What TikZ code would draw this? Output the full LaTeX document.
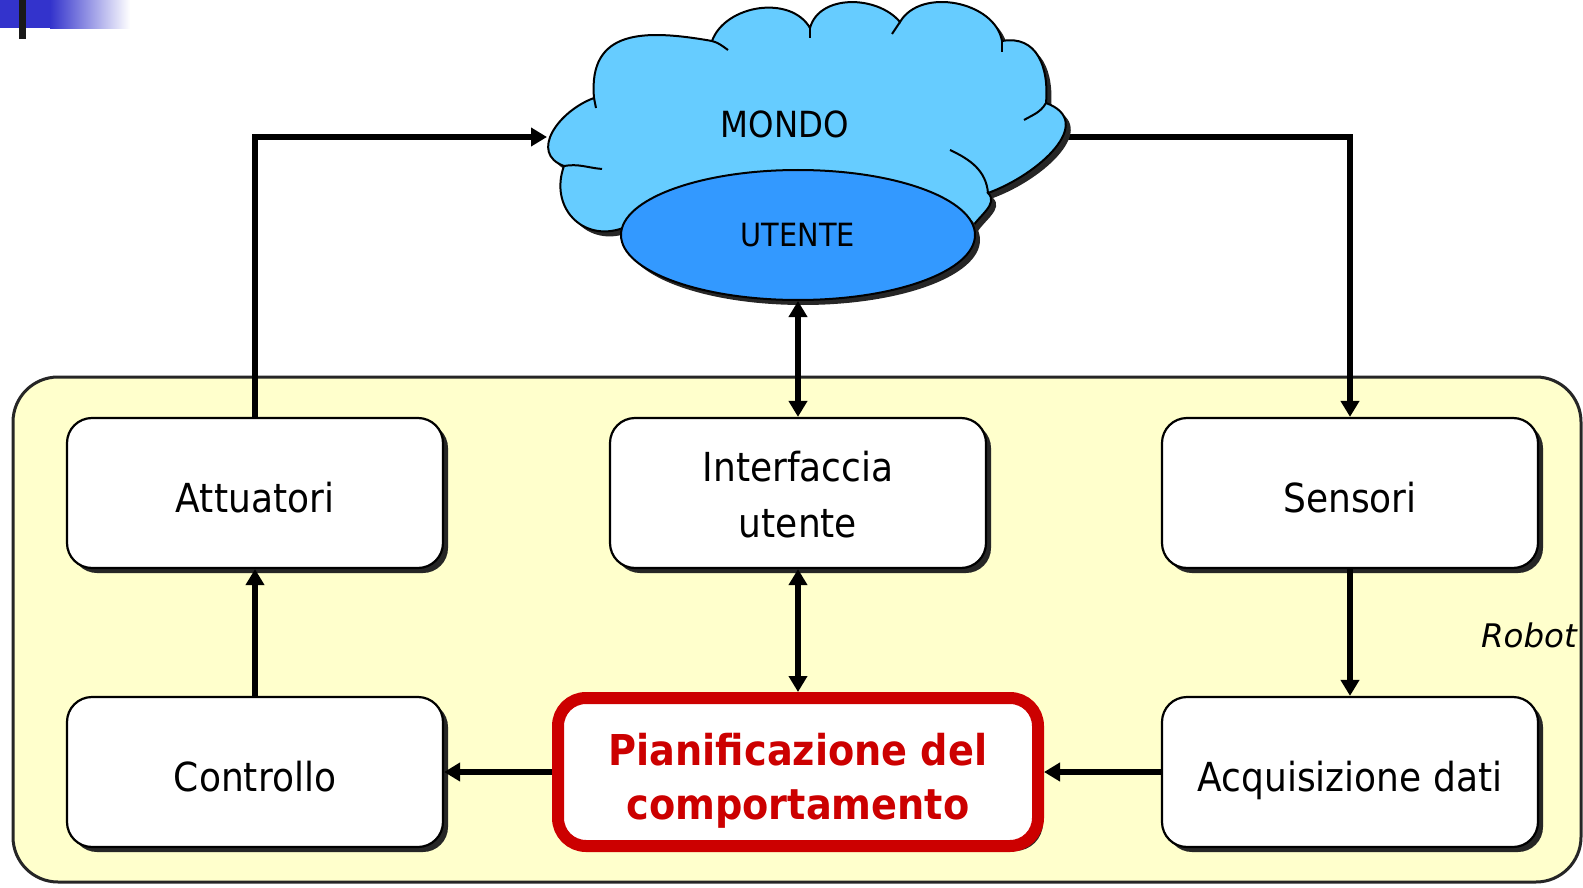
\documentclass[tikz,border=0pt]{standalone}
\usepackage{fontspec}
\setmainfont{DejaVu Sans}[FakeStretch=0.9]
\newfontfamily\robotfont{DejaVu Sans}
\usetikzlibrary{shapes.geometric,arrows.meta,shadows}
\definecolor{cloudblue}{HTML}{66CCFF}
\definecolor{userblue}{HTML}{3399FF}
\definecolor{robotbg}{HTML}{FFFFCC}
\definecolor{planred}{HTML}{CC0000}
\definecolor{barblue}{HTML}{3333CC}
\begin{document}
\begin{tikzpicture}[x=1pt,y=-1pt,
  shad/.style={drop shadow={shadow xshift=5pt,shadow yshift=-5pt,opacity=1,fill=black!85}},
  box/.style={draw=black, line width=2.2pt, fill=white, rounded corners=25pt,
    minimum width=376pt, minimum height=150pt, inner sep=0pt, align=center,
    font=\fontsize{40}{56}\selectfont, shad},
  single/.style={text height=38pt, text depth=0pt},
  arr/.style={line width=6pt, -{Triangle[length=16pt,width=18pt]}},
  darr/.style={line width=6pt, {Triangle[length=16pt,width=18pt]}-{Triangle[length=16pt,width=18pt]}},
  cloudline/.style={draw=black, line width=2pt},
]
\useasboundingbox (0,0) rectangle (1583,888);
% top-left decoration
\fill[barblue] (0,0) rectangle (51,28);
\shade[left color=barblue, right color=white] (50,0) rectangle (130,29);
\fill[black!90] (19,0) rectangle (26,39);

% robot container
\node[draw=black!85, line width=3pt, fill=robotbg, rounded corners=45pt,
  minimum width=1568pt, minimum height=505pt, inner sep=0pt] (robot) at (797,629.5) {};
\node[font=\fontsize{32.5}{32.5}\selectfont\robotfont\itshape, anchor=base east, inner sep=0pt] (robotlbl) at (1577,647) {Robot};

% boxes
\node[box, single] (att) at (255,493) {Attuatori};
\node[box] (intf) at (798,493) {\rule{0pt}{34pt}Interfaccia\\utente};
\node[box, single] (sens) at (1350,493) {Sensori};
\node[box, single] (ctrl) at (255,772) {Controllo};
\node[box, single] (acq) at (1350,772) {Acquisizione dati};
\node[draw=planred, line width=12pt, fill=white, rounded corners=28pt,
  minimum width=480pt, minimum height=148pt, inner sep=0pt, shad] (pian) at (798,772) {};
\node[text=planred, align=center, inner sep=0pt,
  font=\fontsize{42.5}{54}\selectfont\bfseries] (piantxt) at (798,781) {Pianificazione del\\comportamento};

% connector leaving the cloud (drawn under it)
\coordinate (cloudL) at (547,137);
\coordinate (cloudR) at (1040,137);
\draw[arr] (cloudR) -| (sens.north);

% cloud
\path[fill=cloudblue, cloudline, shad]
 (623,228) to[out=200,in=250,looseness=1.3] (564,166)
 to[out=160,in=200,looseness=1.3] (594,98)
 to[out=95,in=170,looseness=1.35] (712,41)
 to[out=70,in=120] (810,28)
 to[out=75,in=130] (900,22)
 to[out=60,in=100] (1002,41)
 to[out=10,in=85,looseness=1.2] (1046,103)
 to[out=-20,in=20,looseness=1.3] (988,193)
 to[out=-45,in=60] (971,229)
 -- (798,262) -- cycle;
\draw[cloudline] (564,166) to[out=10,in=175] (602,169);
\draw[cloudline] (594,98) -- (596,108);
\draw[cloudline] (712,41) to[out=-15,in=145] (728,50);
\draw[cloudline] (810,28) -- (810,38);
\draw[cloudline] (900,22) -- (892,34);
\draw[cloudline] (1002,41) -- (1002,52);
\draw[cloudline] (1046,103) to[out=-120,in=30] (1024,120);
\draw[cloudline] (988,193) to[out=95,in=-25] (950,150);
\node[font=\fontsize{36}{36}\selectfont] (mondo) at (785,124) {MONDO};
\node[ellipse, draw=black, line width=2pt, fill=userblue, minimum width=354pt,
  minimum height=130pt, inner sep=0pt, shad, font=\fontsize{32}{32}\selectfont] (ute) at (798,235) {UTENTE};

% connectors
\draw[arr] (att.north) |- (cloudL);
\draw[darr] (ute.south) -- (intf.north);
\draw[darr] (intf.south) -- (pian.north);
\draw[arr] (sens.south) -- (acq.north);
\draw[arr] (acq.west) -- (pian.east);
\draw[arr] (pian.west) -- (ctrl.east);
\draw[arr] (ctrl.north) -- (att.south);
\end{tikzpicture}
\end{document}
